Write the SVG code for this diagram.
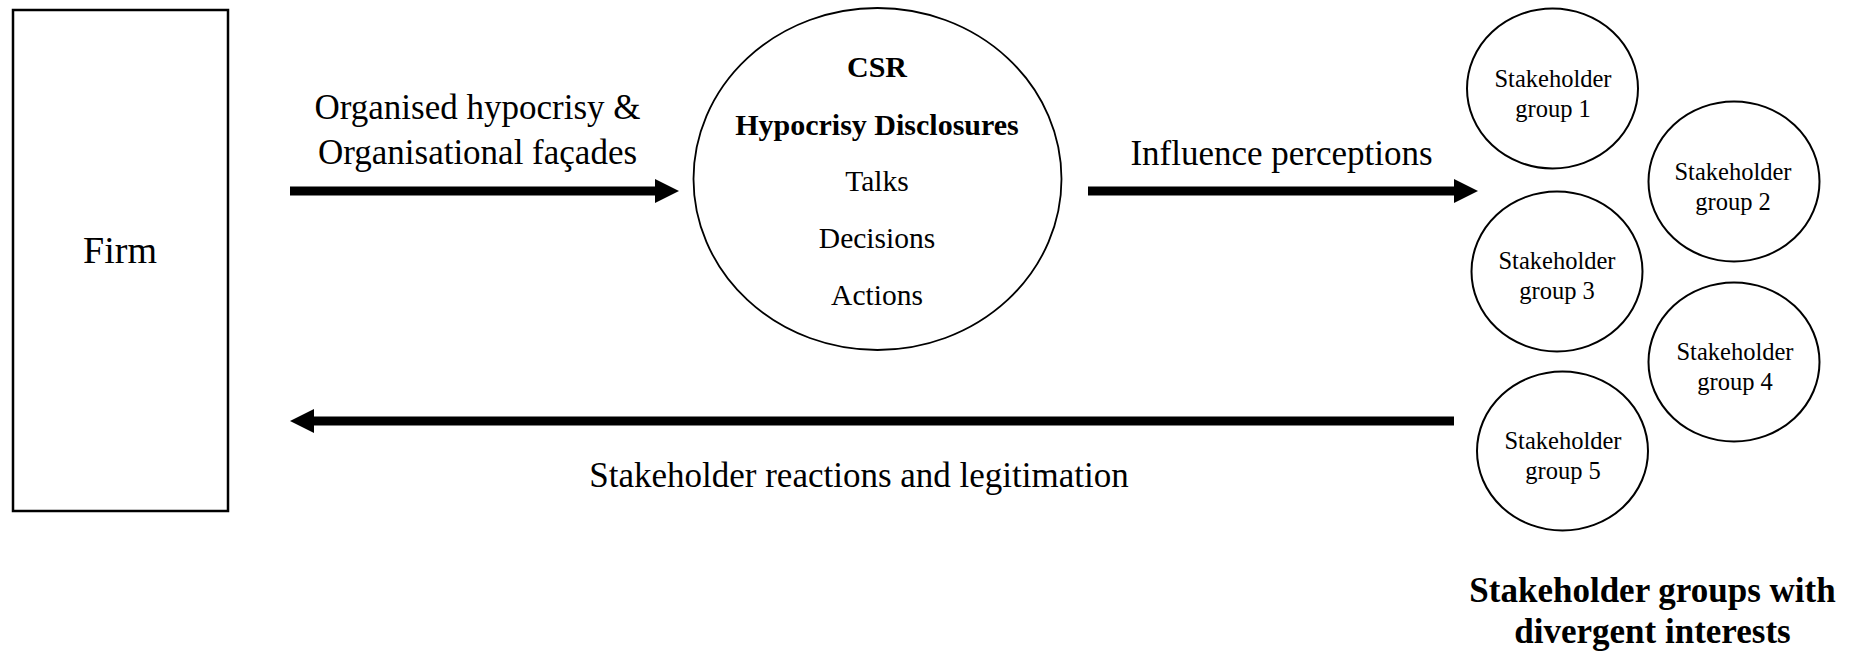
<svg xmlns="http://www.w3.org/2000/svg" width="1859" height="656" viewBox="0 0 1859 656" font-family="Liberation Serif, Tinos, Times New Roman, serif">
<style>
text{font-family:'Liberation Serif',Tinos,'Times New Roman',Times,serif;fill:#000;text-anchor:middle}
.lbl{font-size:35px}
.in{font-size:29.5px}
.b{font-weight:bold}
.sg{font-size:24.5px}
.shape{fill:#fff;stroke:#000}
.conn{stroke:#000;stroke-width:9;fill:none}
</style>
<defs>
<marker id="ah" markerUnits="userSpaceOnUse" markerWidth="24" markerHeight="24" viewBox="0 0 24 24" refX="0" refY="12" orient="auto">
<path d="M0,0 L24,12 L0,24 z" fill="#000"/>
</marker>
</defs>
<rect width="1859" height="656" fill="#fff"/>
<g id="connectors">
<line class="conn" x1="290" y1="191" x2="655" y2="191" marker-end="url(#ah)"/>
<line class="conn" x1="1088" y1="191" x2="1454" y2="191" marker-end="url(#ah)"/>
<line class="conn" x1="1454" y1="421" x2="314" y2="421" marker-end="url(#ah)"/>
<text class="lbl" x="477.5" y="119">Organised hypocrisy &amp;</text>
<text class="lbl" x="477.5" y="164">Organisational façades</text>
<text class="lbl" x="1281.5" y="165">Influence perceptions</text>
<text class="lbl" x="859" y="487">Stakeholder reactions and legitimation</text>
</g>
<g id="firm">
<rect class="shape" x="13" y="10" width="215" height="501" stroke-width="2.5"/>
<text x="120" y="263" style="font-size:38px">Firm</text>
</g>
<g id="csr">
<ellipse class="shape" cx="877.5" cy="179" rx="184" ry="171" stroke-width="1.8"/>
<text class="b" x="877" y="77" style="font-size:30px">CSR</text>
<text class="b" x="877" y="135" style="font-size:30px">Hypocrisy Disclosures</text>
<text class="in" x="877" y="191">Talks</text>
<text class="in" x="877" y="248">Decisions</text>
<text class="in" x="877" y="305">Actions</text>
</g>
<g id="sg1">
<ellipse class="shape" cx="1552.5" cy="88.5" rx="85.5" ry="80" stroke-width="2"/>
<text class="sg" x="1553" y="87">Stakeholder</text>
<text class="sg" x="1553" y="116.5">group 1</text>
</g>
<g id="sg2">
<ellipse class="shape" cx="1734" cy="181.5" rx="85.5" ry="80" stroke-width="2"/>
<text class="sg" x="1733" y="180">Stakeholder</text>
<text class="sg" x="1733" y="210">group 2</text>
</g>
<g id="sg3">
<ellipse class="shape" cx="1557" cy="271.5" rx="85.5" ry="80" stroke-width="2"/>
<text class="sg" x="1557" y="269">Stakeholder</text>
<text class="sg" x="1557" y="298.5">group 3</text>
</g>
<g id="sg4">
<ellipse class="shape" cx="1734" cy="362" rx="85.5" ry="79.5" stroke-width="2"/>
<text class="sg" x="1735" y="359.5">Stakeholder</text>
<text class="sg" x="1735" y="390">group 4</text>
</g>
<g id="sg5">
<ellipse class="shape" cx="1562.5" cy="451" rx="85.5" ry="79.5" stroke-width="2"/>
<text class="sg" x="1563" y="448.5">Stakeholder</text>
<text class="sg" x="1563" y="479">group 5</text>
</g>
<g id="title">
<text class="lbl b" x="1652.5" y="601.5">Stakeholder groups with</text>
<text class="lbl b" x="1652.5" y="643">divergent interests</text>
</g>
</svg>
